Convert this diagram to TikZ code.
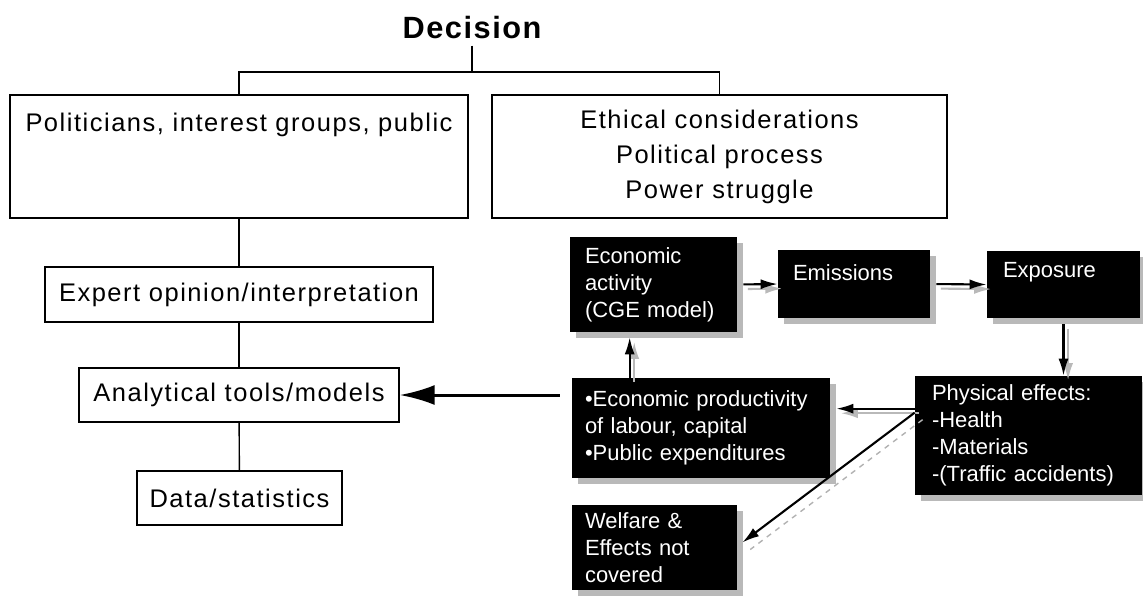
\documentclass[tikz,border=0pt]{standalone}
\usepackage{fontspec}
\setmainfont{Liberation Sans}
\newfontfamily\spacedfont[LetterSpace=6]{Liberation Sans}
\newfontfamily\headfont[LetterSpace=5]{Liberation Sans}
\usetikzlibrary{arrows.meta,backgrounds}

\begin{document}
\begin{tikzpicture}[x=0.02cm, y=-0.02cm,
    outbox/.style={draw, line width=0.8pt, inner sep=0pt, align=center,
      font=\spacedfont\fontsize{14.5}{19.9}\selectfont},
    darkbox/.style={fill=black, text=white, align=left, inner ysep=0pt,
      font=\fontsize{12.5}{15.4}\selectfont},
    flow/.style={-{Latex[length=0.34cm, width=0.2cm]}, line width=1.2pt},
    flowshade/.style={flow, draw=gray!55, fill=gray!55,
      transform canvas={xshift=2.6pt, yshift=-2.6pt}},
    bigflow/.style={-{Latex[length=0.7cm, width=0.4cm]}, line width=1.7pt}]
  \useasboundingbox (0,0) rectangle (1143,596);

  % top of the tree
  \node [font=\headfont\bfseries\fontsize{17.5}{20}\selectfont] (decision) at (472,28) {Decision};
  \coordinate (split) at (472,72);

  \node [outbox, minimum width=9.16cm, text height=0.72cm, text depth=1.74cm]
    (polit) at (239,156.5) {Politicians, interest groups, public};
  \node [outbox, minimum width=9.1cm, minimum height=2.46cm]
    (ethic) at (719.5,156.5) {Ethical considerations\\Political process\\Power struggle};

  % left column
  \node [outbox, minimum width=7.76cm, minimum height=1.1cm] (expert) at (239,294.5) {Expert opinion/interpretation};
  \node [outbox, minimum width=6.4cm, minimum height=1.08cm] (analyt) at (239,395) {Analytical tools/models};
  \node [outbox, minimum width=4.1cm, minimum height=1.08cm] (data) at (239.5,498) {Data/statistics};

  \draw [line width=0.8pt] (decision) -- (split);
  \draw [line width=0.8pt] (polit.north) |- (split) -| (ethic.north);
  \draw [line width=0.8pt] (polit) -- (expert);
  \draw [line width=0.8pt] (expert) -- (analyt);
  \draw [line width=0.8pt] (analyt) -- (data);

  % impact chain
  \node [darkbox, minimum width=3.34cm, minimum height=1.9cm, inner xsep=0.3cm, text width=2.74cm]
    (econ) at (653.5,284.5) {Economic\\activity\\(CGE model)};
  \node [darkbox, minimum width=3.04cm, inner xsep=0.3cm, text width=2.44cm, text height=0.6cm, text depth=0.76cm]
    (emis) at (854,284) {Emissions};
  \node [darkbox, minimum width=3.06cm, inner xsep=0.32cm, text width=2.42cm, text height=0.52cm, text depth=0.82cm]
    (expo) at (1063.5,284.5) {Exposure};
  \node [darkbox, minimum width=4.54cm, minimum height=2.38cm, inner xsep=0.34cm, text width=3.86cm]
    (phys) at (1028.5,435.5) {Physical effects:\\-Health\\-Materials\\-(Traffic accidents)};
  \node [darkbox, minimum width=5.16cm, minimum height=2.0cm, inner xsep=0.26cm, text width=4.64cm]
    (prod) at (701,428) {\textbullet Economic productivity\\of labour, capital\\\textbullet Public expenditures};
  \node [darkbox, minimum width=3.3cm, minimum height=1.7cm, inner xsep=0.26cm, text width=2.78cm]
    (welf) at (654.5,547.5) {Welfare \&\\Effects not\\covered};

  % grey shadows behind the black boxes
  \begin{scope}[on background layer]
    \foreach \b in {econ, emis, expo, phys, prod, welf}
      \fill [gray!55] ([shift={(6,6)}]\b.north west) rectangle ([shift={(6,6)}]\b.south east);
  \end{scope}

  \coordinate (physin) at ([yshift=-0.66cm]phys.north west);
  \coordinate (physout) at ([yshift=-0.74cm]phys.north west);
  \coordinate (produp) at ([xshift=1.16cm]prod.north west);

  % arrows with their grey shade
  \draw [flowshade, shorten <=3.4pt] (econ.east) -- (emis.west);
  \draw [flow, shorten <=3.4pt] (econ.east) -- (emis.west);
  \draw [flowshade, shorten <=3.4pt] (emis.east) -- (expo.west);
  \draw [flow, shorten <=3.4pt] (emis.east) -- (expo.west);
  \draw [flowshade, shorten <=3.4pt] (expo.south) -- (expo.south |- phys.north);
  \draw [flow, shorten <=3.4pt] (expo.south) -- (expo.south |- phys.north);
  \draw [flowshade, shorten >=3.4pt] (physin) -- (physin -| prod.east);
  \draw [flow, shorten >=3.4pt] (physin) -- (physin -| prod.east);
  \draw [flowshade, shorten >=2.8pt] (produp) -- (produp |- econ.south);
  \draw [flow, shorten >=2.8pt] (produp) -- (produp |- econ.south);
  \draw [draw=gray!60, line width=0.8pt, dashed, transform canvas={xshift=4.5pt, yshift=-4pt}]
    (physout) -- ([xshift=0.1cm, yshift=0.1cm]welf.east);
  \draw [flow] (physout) -- ([xshift=0.1cm, yshift=0.1cm]welf.east);

  \draw [bigflow, shorten <=0.24cm] (analyt.east -| prod.west) -- (analyt.east);
\end{tikzpicture}
\end{document}
